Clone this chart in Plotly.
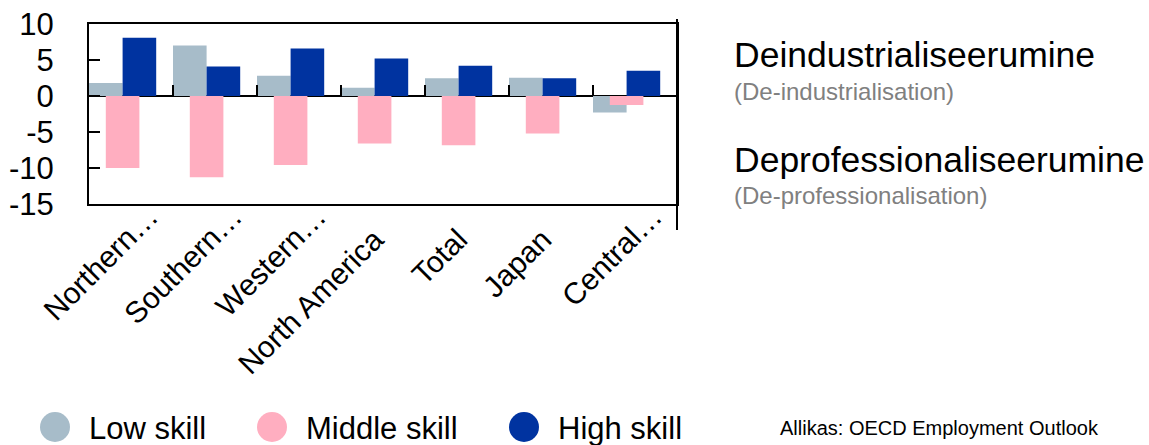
import plotly.graph_objects as go

categories = ["Northern…", "Southern…", "Western…", "North America", "Total", "Japan", "Central…"]
low_skill = [1.8, 7.0, 2.8, 1.15, 2.45, 2.55, -2.3]
middle_skill = [-10.0, -11.3, -9.6, -6.6, -6.85, -5.2, -1.25]
high_skill = [8.1, 4.1, 6.6, 5.2, 4.2, 2.45, 3.5]
series_names = ["Low skill", "Middle skill", "High skill"]
y_ticks = [-15, -10, -5, 0, 5, 10]

colors = ["#A7BCC9", "#FFAEC0", "#0033A0"]
offsets = [-0.5, -0.3, -0.1]
FONT = "Arial, Liberation Sans, sans-serif"

W, H = 1149, 445
L, R, T, B = 89, 677, 24, 204  # plot area in pixels
ymin, ymax = -15, 10

xs = list(range(len(categories)))
fig = go.Figure()
for name, vals, col, off in zip(series_names, [low_skill, middle_skill, high_skill], colors, offsets):
    fig.add_trace(go.Bar(x=xs, y=vals, name=name, marker=dict(color=col, line=dict(width=0)),
                         width=0.4, offset=off, showlegend=False))
# empty helper traces so the overlay axes (ticks / truncated labels) are drawn
fig.add_trace(go.Bar(x=[], y=[], xaxis="x2", showlegend=False, hoverinfo="skip"))
fig.add_trace(go.Bar(x=[], y=[], xaxis="x3", showlegend=False, hoverinfo="skip"))

def px_x(p):
    return (p - L) / (R - L)

def px_y(p):
    return (B - p) / (B - T)

zero_pos = (0 - ymin) / (ymax - ymin)
label_shift = -0.1        # full labels
trunc_shift = 0.22        # truncated labels overflow past their anchor
full = [(i, c) for i, c in zip(xs, categories) if not c.endswith("…")]
trunc = [(i, c) for i, c in zip(xs, categories) if c.endswith("…")]
xr = [-0.5, len(categories) - 0.5]
tickfont_x = dict(size=30, family=FONT, color="black")

fig.update_layout(
    width=W, height=H,
    margin=dict(l=L, r=W - R, t=T, b=H - B, pad=0, autoexpand=False),
    paper_bgcolor="white", plot_bgcolor="white",
    barmode="overlay",
    font=dict(family=FONT, color="black"),
    xaxis=dict(range=xr, tickvals=[i + label_shift for i, _ in full],
               ticktext=[c for _, c in full],
               tickangle=-45, tickfont=tickfont_x,
               showline=True, linecolor="black", linewidth=2, mirror=True,
               ticks="", showgrid=False, zeroline=False, ticklabelstandoff=4,
               automargin=False),
    xaxis2=dict(range=xr, overlaying="x", anchor="free",
                position=zero_pos, side="bottom",
                tickvals=[i + 0.5 for i in xs[:-1]], ticks="inside", ticklen=11,
                tickwidth=2, tickcolor="black", showticklabels=False,
                showline=False, showgrid=False, zeroline=False, automargin=False),
    xaxis3=dict(range=xr, overlaying="x", anchor="free", position=16 / (B - T),
                side="bottom",
                tickvals=[i + trunc_shift for i, _ in trunc],
                ticktext=[c for _, c in trunc],
                tickangle=-45, tickfont=tickfont_x, ticks="",
                showline=False, showgrid=False, zeroline=False,
                ticklabelstandoff=4, automargin=False),
    yaxis=dict(range=[ymin, ymax], tickvals=y_ticks, ticktext=[str(v) for v in y_ticks],
               ticks="inside", ticklen=11,
               tickwidth=2, tickcolor="black",
               tickfont=dict(size=31, family=FONT, color="black"),
               showline=True, linecolor="black", linewidth=2, mirror=True,
               showgrid=False, zeroline=True, zerolinecolor="black", zerolinewidth=2,
               ticklabelstandoff=27, automargin=False),
)

# extended right separator line
fig.add_shape(type="line", xref="paper", yref="paper", x0=1, x1=1,
              y0=px_y(230), y1=px_y(19), line=dict(color="black", width=2))

# manual legend with circular markers
legend_cx = [55, 272, 524]
for name, col, cx in zip(series_names, colors, legend_cx):
    fig.add_shape(type="circle", xref="paper", yref="paper",
                  x0=px_x(cx - 15), x1=px_x(cx + 15), y0=px_y(427 + 15), y1=px_y(427 - 15),
                  fillcolor=col, line=dict(width=0))
    fig.add_annotation(xref="paper", yref="paper", x=px_x(cx + 32), y=px_y(428),
                       text=name, showarrow=False, xanchor="left", yanchor="middle",
                       font=dict(size=31, family=FONT, color="black"))

texts = [
    ("Deindustrialiseerumine", 732, 55, 35.5, "black"),
    ("(De-industrialisation)", 732, 91, 24, "#808080"),
    ("Deprofessionaliseerumine", 732, 160, 35.5, "black"),
    ("(De-professionalisation)", 732, 195, 24, "#808080"),
    ("Allikas: OECD Employment Outlook", 778, 428, 20, "black"),
]
for t, x, y, s, c in texts:
    fig.add_annotation(xref="paper", yref="paper", x=px_x(x), y=px_y(y), text=t,
                       showarrow=False, xanchor="left", yanchor="middle",
                       font=dict(size=s, family=FONT, color=c))

fig.write_html("out.html", config={"displayModeBar": False},
               post_script="document.body.style.margin='0';document.body.style.overflow='hidden';")
